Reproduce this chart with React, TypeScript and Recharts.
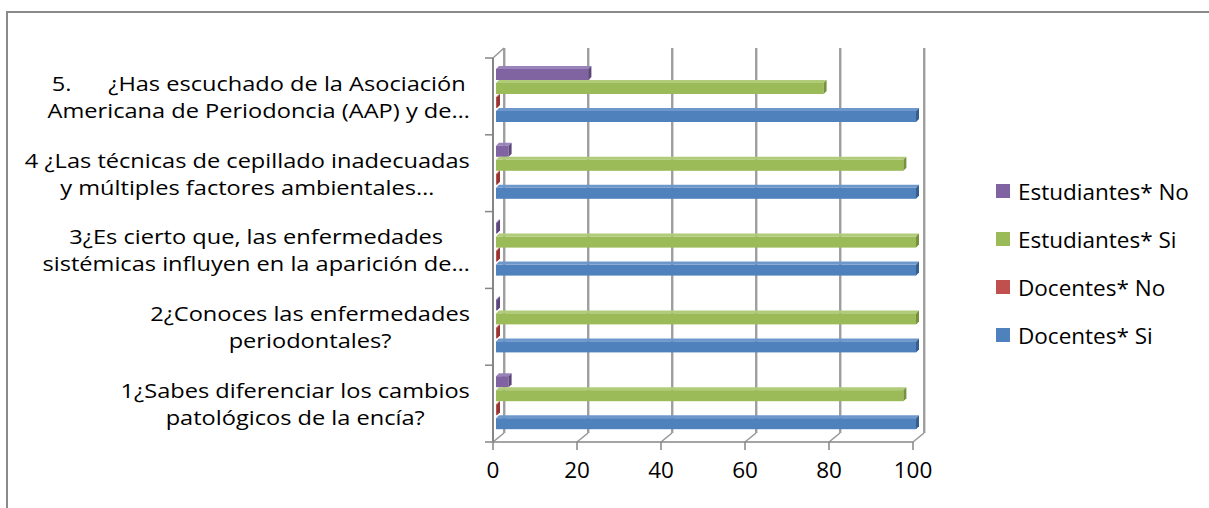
import React from 'react';
import { BarChart, Bar, XAxis, YAxis, CartesianGrid, Legend } from 'recharts';

// ---------- data ----------
const categories = ['P1', 'P2', 'P3', 'P4', 'P5'];
const categoryLabels: string[][] = [
  ['1¿Sabes diferenciar los cambios', 'patológicos de la encía?'],
  ['2¿Conoces las enfermedades', 'periodontales?'],
  ['3¿Es cierto que, las enfermedades', 'sistémicas influyen en la aparición de…'],
  ['4 ¿Las técnicas de cepillado inadecuadas', 'y múltiples factores ambientales…'],
  ['5.      ¿Has escuchado de la Asociación', 'Americana de Periodoncia (AAP) y de…'],
];
const docentesSi = [100, 100, 100, 100, 100];
const docentesNo = [0, 0, 0, 0, 0];
const estudiantesSi = [97, 100, 100, 97, 78];
const estudiantesNo = [3, 0, 0, 3, 22];
const xTicks = [0, 20, 40, 60, 80, 100];

// ---------- styles ----------
const FONT = '"Open Sans", "Noto Sans", sans-serif';
const FS = 22.5;
const LABEL_FS = 20;
const LABEL_STRETCH = 1.18;

const series = [
  { key: 'estNo', name: 'Estudiantes* No', values: estudiantesNo, color: '#8064A2', top: '#9a83bb', side: '#5c477a' },
  { key: 'estSi', name: 'Estudiantes* Si', values: estudiantesSi, color: '#9BBB59', top: '#b0cc78', side: '#76923c' },
  { key: 'docNo', name: 'Docentes* No', values: docentesNo, color: '#C0504D', top: '#d0716e', side: '#943634' },
  { key: 'docSi', name: 'Docentes* Si', values: docentesSi, color: '#4F81BD', top: '#6e98cc', side: '#365f91' },
];

const data = categories.map((c, i) => {
  const row: Record<string, any> = { cat: c };
  series.forEach((s) => {
    row[s.key] = s.values[i];
  });
  return row;
});

let measureCtx: CanvasRenderingContext2D | null = null;
function measure(t: string): number {
  if (!measureCtx) measureCtx = document.createElement('canvas').getContext('2d');
  if (!measureCtx) return t.length * LABEL_FS * 0.5;
  measureCtx.font = `${LABEL_FS}px "Open Sans"`;
  return measureCtx.measureText(t).width;
}

const AXIS_X = 493;
const LABEL_RIGHT = 470;

const CategoryTick = (props: any) => {
  const { y, payload } = props;
  const idx = categories.indexOf(payload.value);
  const lines = categoryLabels[idx] || [String(payload.value)];
  const half = payload.offset || 38.4;
  const maxW = Math.max(...lines.map(measure)) * LABEL_STRETCH;
  const cx = LABEL_RIGHT - maxW / 2;
  const lineH = 27;
  const firstBase = y - ((lines.length - 1) * lineH) / 2 + 8;
  return (
    <g>
      <line x1={AXIS_X - 8} y1={y + half} x2={AXIS_X} y2={y + half} stroke="#868686" strokeWidth={1.5} />
      {idx === categories.length - 1 && (
        <line x1={AXIS_X - 8} y1={y - half} x2={AXIS_X} y2={y - half} stroke="#868686" strokeWidth={1.5} />
      )}
      <text
        textAnchor="middle"
        fill="#000"
        fontFamily={FONT}
        fontSize={LABEL_FS}
        style={{ whiteSpace: 'pre' }}
        transform={`translate(${cx},0) scale(${LABEL_STRETCH},1) translate(${-cx},0)`}
      >
        {lines.map((l, i) => (
          <tspan key={i} x={cx} y={firstBase + i * lineH}>
            {l}
          </tspan>
        ))}
      </text>
    </g>
  );
};

const DX = 11;
const DY = 9;

const GridLine = (p: any) => {
  const { x1, y1, y2, index } = p;
  const stroke = '#979797';
  return (
    <g key={p.key}>
      <line x1={x1 + DX + 1} y1={y1 - DY - 1} x2={x1 + DX + 1} y2={y2 - DY} stroke="#c8c8c8" strokeWidth={1.5} />
      <line x1={x1 + DX} y1={y1 - DY - 1} x2={x1 + DX} y2={y2 - DY} stroke={stroke} strokeWidth={1.8} />
      <line x1={x1} y1={y2} x2={x1 + DX} y2={y2 - DY} stroke={stroke} strokeWidth={1.5} />
      {index === 0 && (
        <line x1={x1} y1={y1} x2={x1 + DX} y2={y1 - DY - 1} stroke={stroke} strokeWidth={1.5} />
      )}
    </g>
  );
};

const makeShape = (s: (typeof series)[number]) => (props: any) => {
  const { x, width, height } = props;
  const y = props.y - 2;
  const d = 3;
  const x0 = x + 3;
  const w = Math.max(0, width);
  const h = height;
  return (
    <g>
      <polygon
        points={`${x0},${y + d} ${x0 + d},${y} ${x0 + w + d},${y} ${x0 + w},${y + d}`}
        fill={s.top}
      />
      <rect x={x0} y={y + d} width={w} height={h - d} fill={s.color} />
      <polygon
        points={`${x0 + w},${y + d} ${x0 + w + d},${y} ${x0 + w + d},${y + h - d} ${x0 + w},${y + h}`}
        fill={s.side}
      />
    </g>
  );
};

const LegendContent = () => (
  <div style={{ display: 'flex', flexDirection: 'column' }}>
    {series.map((s) => (
      <div key={s.key} style={{ display: 'flex', alignItems: 'center', height: 48 }}>
        <span style={{ display: 'inline-block', width: 14, height: 14, background: s.color, marginRight: 8 }} />
        <span style={{ fontSize: FS, fontFamily: FONT, color: '#000', whiteSpace: 'nowrap' }}>{s.name}</span>
      </div>
    ))}
  </div>
);

export default function App() {
  return (
    <div
      style={{
        position: 'absolute',
        left: 0,
        top: 0,
        width: 1209,
        height: 508,
        overflow: 'hidden',
        background: '#fff',
      }}
    >
      <div
        style={{
          position: 'absolute',
          left: 6,
          top: 11,
          width: 1400,
          height: 700,
          borderLeft: '2px solid #8a8a8a',
          borderTop: '2px solid #8a8a8a',
        }}
      />
      <div style={{ position: 'absolute', left: 0, top: 0 }}>
        <BarChart
          width={1209}
          height={508}
          layout="vertical"
          data={data}
          margin={{ top: 58, right: 296, bottom: 0, left: 0 }}
          barCategoryGap={10}
          barGap={0}
        >
          <CartesianGrid horizontal={false} vertical={GridLine as any} />
          <XAxis
            type="number"
            domain={[0, 100]}
            ticks={xTicks}
            interval={0}
            height={66}
            tickSize={8}
            tickMargin={12}
            axisLine={{ stroke: '#868686', strokeWidth: 1.5 }}
            tickLine={{ stroke: '#868686', strokeWidth: 1.5 }}
            tick={{ fill: '#000', fontSize: FS, fontFamily: FONT }}
          />
          <YAxis
            type="category"
            dataKey="cat"
            reversed
            width={493}
            interval={0}
            tickLine={false}
            axisLine={{ stroke: '#868686', strokeWidth: 2 }}
            tick={<CategoryTick />}
          />
          <Legend
            layout="vertical"
            align="center"
            verticalAlign="middle"
            content={<LegendContent />}
            wrapperStyle={{ left: 996, top: 167, width: 210 }}
          />
          {series.map((s) => (
            <Bar
              key={s.key}
              dataKey={s.key}
              name={s.name}
              fill={s.color}
              isAnimationActive={false}
              minPointSize={1}
              shape={makeShape(s)}
            />
          ))}
        </BarChart>
      </div>
    </div>
  );
}
